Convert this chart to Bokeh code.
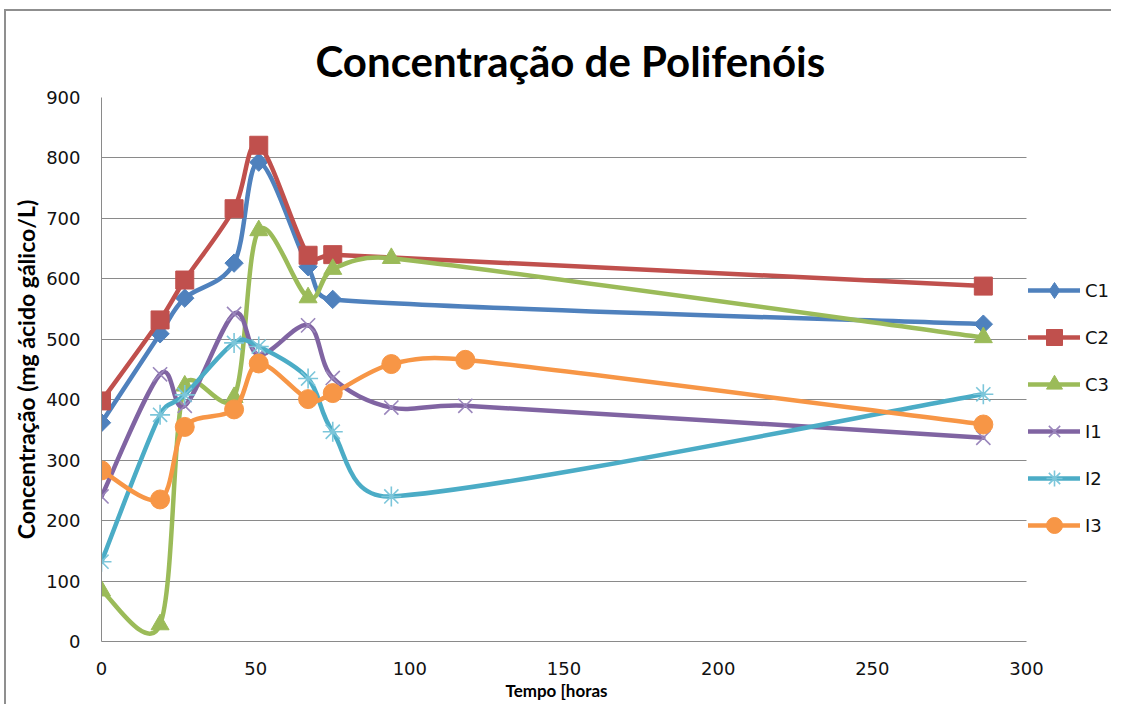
import numpy as np
from bokeh.plotting import figure
from bokeh.models import (Range1d, FixedTicker, Legend, LegendItem, Title,
                          BoxAnnotation)
from bokeh.embed import file_html
from bokeh.resources import INLINE

# ---- data (hours, mg gallic acid / L) ----
t_C = [0, 19, 27, 43, 51, 67, 75, 286]
C1 = [362, 509, 568, 626, 793, 620, 566, 525]
C2 = [398, 532, 598, 716, 821, 639, 640, 588]
t_C3 = [0, 19, 27, 43, 51, 67, 75, 94, 286]
C3 = [84, 28, 423, 404, 680, 569, 616, 634, 503]
t_I1 = [0, 19, 27, 43, 51, 67, 75, 94, 118, 286]
I1 = [240, 442, 390, 542, 474, 523, 436, 387, 390, 337]
t_I2 = [0, 19, 27, 43, 51, 67, 75, 94, 286]
I2 = [132, 375, 408, 494, 488, 435, 347, 240, 409]
t_I3 = [0, 19, 27, 43, 51, 67, 75, 94, 118, 286]
I3 = [283, 235, 355, 384, 460, 401, 411, 459, 466, 359]

x_ticks = [0, 50, 100, 150, 200, 250, 300]
y_ticks = [0, 100, 200, 300, 400, 500, 600, 700, 800, 900]

names = ["C1", "C2", "C3", "I1", "I2", "I3"]
xs = [t_C, t_C, t_C3, t_I1, t_I2, t_I3]
ys = [C1, C2, C3, I1, I2, I3]
colors = ["#4F81BD", "#C0504D", "#9BBB59", "#8064A2", "#4BACC6", "#F79646"]

TITLE = "Concentração de Polifenóis"
YLABEL = "Concentração (mg ácido gálico/L)"
XLABEL = "Tempo [horas"

# ---- layout ----
W, H = 1111, 704
ML, MT, MB = 101, 97, 63
PLOT_W = 925                       # width of the 0..300 plot area (px)
XMAX = 300 * (W - ML) / PLOT_W     # frame extends right to hold the legend

p = figure(width=W, height=H, output_backend="svg", toolbar_location=None,
           x_range=Range1d(0, XMAX), y_range=Range1d(0, 900),
           min_border_left=ML, min_border_right=0, min_border_top=MT,
           min_border_bottom=MB, title=None)
p.outline_line_color = None
p.background_fill_color = "white"
p.border_fill_alpha = 0
# chart-area border (top and left edges), drawn by the page behind the canvas
p.styles = {
    "background-color": "white",
    "background-image": "linear-gradient(#8f8f8f, #8f8f8f), linear-gradient(#8f8f8f, #8f8f8f)",
    "background-repeat": "no-repeat, no-repeat",
    "background-position": "4px 9px, 4px 9px",
    "background-size": "100% 2px, 2px 100%",
}

ttl = Title(text=TITLE, align="left", offset=214, standoff=23,
            text_font="Lato", text_font_style="bold", text_font_size="42px",
            text_color="#000000")
p.add_layout(ttl, "above")

p.xgrid.grid_line_color = None
p.ygrid.grid_line_color = "#8a8a8a"
p.ygrid.grid_line_width = 1

p.xaxis.ticker = FixedTicker(ticks=x_ticks)
p.yaxis.ticker = FixedTicker(ticks=y_ticks)
p.xaxis.bounds = (0, 300)
for ax in (p.xaxis, p.yaxis):
    ax.axis_line_color = "#8a8a8a"
    ax.axis_line_width = 1
    ax.major_tick_line_color = None
    ax.minor_tick_line_color = None
    ax.major_tick_out = 0
    ax.major_tick_in = 0
    ax.major_label_text_font = "DejaVu Sans"
    ax.major_label_text_font_size = "18px"
    ax.major_label_text_color = "#111111"
p.xaxis.major_label_standoff = 20
p.yaxis.major_label_standoff = 21
p.yaxis.axis_label = YLABEL
p.yaxis.axis_label_text_font = "Lato"
p.yaxis.axis_label_text_font_style = "bold"
p.yaxis.axis_label_text_color = "#000000"
p.yaxis.axis_label_text_font_size = "23px"
p.yaxis.axis_label_standoff = 3

xl = Title(text=XLABEL, align="left", offset=404, standoff=1,
           text_font="Lato", text_font_style="bold", text_font_size="17px",
           text_color="#000000")
p.add_layout(xl, "below")

# hide grid lines beyond x = 300 (legend area)
p.add_layout(BoxAnnotation(left=300, fill_color="white", fill_alpha=1,
                           line_color=None, level="underlay"))

# pixel scale of the plot area (for the smoothing geometry only)
SX = PLOT_W / 300.0
SY = (H - MT - MB) / 900.0


def smooth(x, y):
    """Bezier control points following Excel's smoothed-line rule."""
    P = np.column_stack([np.asarray(x, float) * SX, np.asarray(y, float) * SY])
    n = len(P)
    out = {k: [] for k in ["x0", "y0", "x1", "y1", "cx0", "cy0", "cx1", "cy1"]}
    for i in range(n - 1):
        p0 = P[i - 1] if i > 0 else P[i]
        p1, p2 = P[i], P[i + 1]
        p3 = P[i + 2] if i + 2 < n else P[i + 1]
        d02 = np.hypot(*(p2 - p0))
        d12 = np.hypot(*(p2 - p1))
        d13 = np.hypot(*(p3 - p1))
        f0 = 1 / 6.0 if d02 / 6.0 < d12 / 2.0 else d12 / d02 / 2.0
        f3 = 1 / 6.0 if d13 / 6.0 < d12 / 2.0 else d12 / d13 / 2.0
        b1 = p1 + (p2 - p0) * f0
        b2 = p2 - (p3 - p1) * f3
        out["x0"].append(p1[0] / SX); out["y0"].append(p1[1] / SY)
        out["x1"].append(p2[0] / SX); out["y1"].append(p2[1] / SY)
        out["cx0"].append(b1[0] / SX); out["cy0"].append(b1[1] / SY)
        out["cx1"].append(b2[0] / SX); out["cy1"].append(b2[1] / SY)
    return out


items = []
LW = 4.5
for nm, x, y, c in zip(names, xs, ys, colors):
    seg = smooth(x, y)
    r_line = p.bezier(source=seg, x0="x0", y0="y0", x1="x1", y1="y1",
                      cx0="cx0", cy0="cy0", cx1="cx1", cy1="cy1",
                      line_color=c, line_width=LW, line_cap="round")
    rs = [r_line]
    if nm == "C1":
        rs.append(p.scatter(x, y, marker="diamond", size=12, fill_color=c, line_color=c))
        p.scatter(x, y, marker="square", angle=np.pi / 4, size=13,
                  fill_color=c, line_color=c)
    elif nm == "C2":
        rs.append(p.scatter(x, y, marker="square", size=18, fill_color=c, line_color=c))
    elif nm == "C3":
        rs.append(p.scatter(x, y, marker="triangle", size=18, fill_color=c, line_color=c))
    elif nm == "I1":
        rs.append(p.scatter(x, y, marker="x", size=20, fill_color=None,
                            line_color="#9a86bc", line_width=1.6))
    elif nm == "I2":
        rs.append(p.scatter(x, y, marker="asterisk", size=20, fill_color=None,
                            line_color="#7cc6da", line_width=1.6))
    else:
        rs.append(p.scatter(x, y, marker="circle", size=19, fill_color=c, line_color=c))
    items.append(LegendItem(label=nm, renderers=rs))

legend = Legend(items=items, location=(927, 96), orientation="vertical",
                glyph_width=52, glyph_height=40, label_height=40, spacing=7,
                padding=0, margin=0, label_standoff=5,
                border_line_color=None, background_fill_alpha=0,
                label_text_font="DejaVu Sans", label_text_font_size="18px",
                label_text_color="#111111")
p.add_layout(legend, "center")

open("out.html", "w").write(file_html(p, INLINE))
